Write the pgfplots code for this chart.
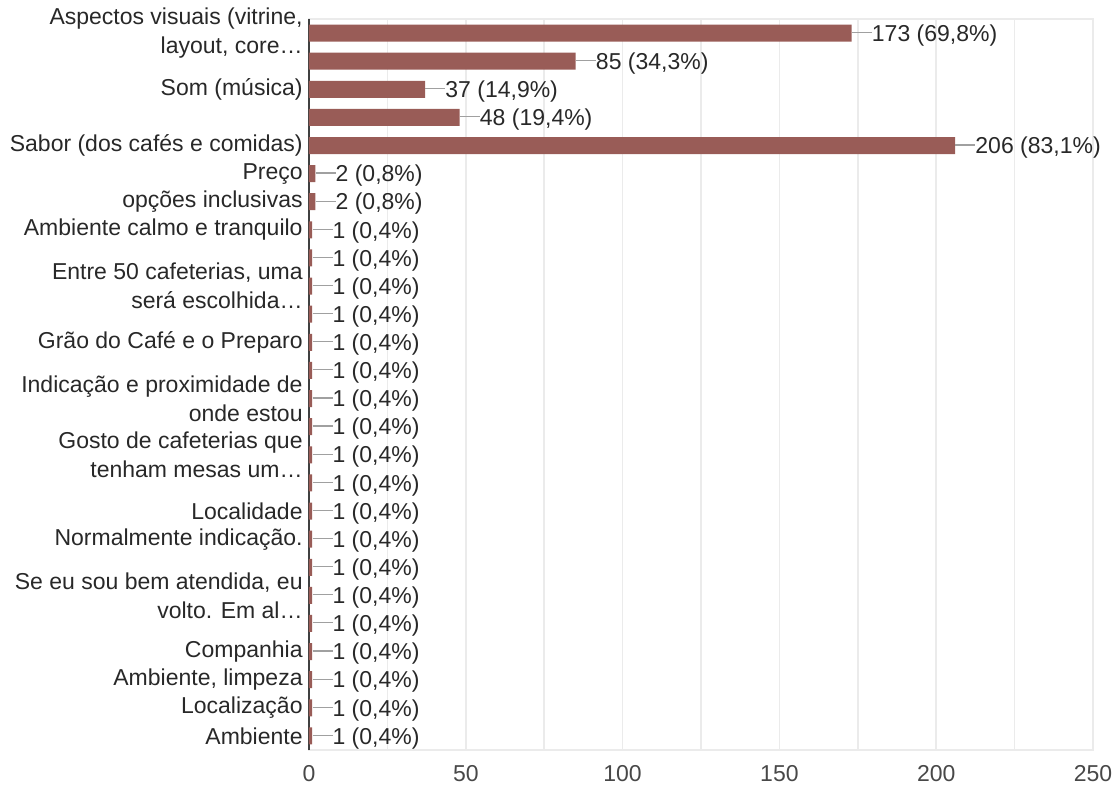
\documentclass[border=0pt]{standalone}
\usepackage{pgfplots}
\pgfplotsset{compat=1.18}
\usepackage{fontspec}
\setmainfont{Liberation Sans}
\definecolor{barc}{RGB}{153,92,87}
\definecolor{gridc}{RGB}{235,235,235}
\definecolor{txt}{RGB}{40,40,40}
\definecolor{conn}{RGB}{160,160,160}
\begin{document}
\begin{tikzpicture}
\begin{axis}[
  scale only axis, width=392pt, height=365.5pt,
  xbar, bar width=8.5pt,
  xmin=0, xmax=250, ymin=-0.5, ymax=25.5, y dir=reverse,
  xtick={0,50,...,250}, minor xtick={25,75,...,225},
  xmajorgrids, xminorgrids,
  major grid style={draw=gridc, line width=0.75pt},
  minor grid style={draw=gridc, line width=0.75pt},
  axis line style={draw=gridc, line width=0.75pt},
  major tick length=0pt, minor tick length=0pt,
  extra x ticks={0}, extra x tick labels={},
  extra x tick style={grid=major, major grid style={draw=black!75, line width=1pt}},
  ytick={0,2,4,5,6,7,9,11,13,15,17,18,20,22,23,24,25},
  yticklabels={
    {Aspectos visuais (vitrine,\\layout, core…},
    {Som (música)},
    {Sabor (dos cafés e comidas)},
    {Preço},
    {opções inclusivas},
    {Ambiente calmo e tranquilo},
    {Entre 50 cafeterias, uma\\será escolhida…},
    {Grão do Café e o Preparo},
    {Indicação e proximidade de\\onde estou},
    {Gosto de cafeterias que\\tenham mesas um…},
    {Localidade},
    {Normalmente indicação.},
    {Se eu sou bem atendida, eu\\volto. Em al…},
    {Companhia},
    {Ambiente, limpeza},
    {Localização},
    {Ambiente}},
  yticklabel style={align=right, font=\fontsize{11.5pt}{14.5pt}\selectfont, text=txt, inner xsep=3pt},
  xticklabel style={font=\fontsize{11.5pt}{14.5pt}\selectfont, text=txt!85, yshift=-4pt},
  /pgf/number format/assume math mode=true,
  point meta=explicit symbolic,
  nodes near coords={\textcolor{conn}{\rule[4.1pt]{10pt}{0.6pt}}\pgfplotspointmeta},
  every node near coord/.append style={anchor=base west, yshift=-4.1pt, inner xsep=0pt, font=\fontsize{11.5pt}{14.5pt}\selectfont, text=txt},
]
\addplot[fill=barc, draw=none] coordinates {
  (173,0) [173 (69,8\%)]
  (85,1) [85 (34,3\%)]
  (37,2) [37 (14,9\%)]
  (48,3) [48 (19,4\%)]
  (206,4) [206 (83,1\%)]
  (2,5) [2 (0,8\%)]
  (2,6) [2 (0,8\%)]
  (1,7) [1 (0,4\%)]
  (1,8) [1 (0,4\%)]
  (1,9) [1 (0,4\%)]
  (1,10) [1 (0,4\%)]
  (1,11) [1 (0,4\%)]
  (1,12) [1 (0,4\%)]
  (1,13) [1 (0,4\%)]
  (1,14) [1 (0,4\%)]
  (1,15) [1 (0,4\%)]
  (1,16) [1 (0,4\%)]
  (1,17) [1 (0,4\%)]
  (1,18) [1 (0,4\%)]
  (1,19) [1 (0,4\%)]
  (1,20) [1 (0,4\%)]
  (1,21) [1 (0,4\%)]
  (1,22) [1 (0,4\%)]
  (1,23) [1 (0,4\%)]
  (1,24) [1 (0,4\%)]
  (1,25) [1 (0,4\%)]
};
\end{axis}
\pgfresetboundingbox
\path ([xshift=-154.5pt,yshift=-19.5pt]current axis.south west) rectangle ([xshift=11.5pt,yshift=9.5pt]current axis.north east);
\end{tikzpicture}
\end{document}
